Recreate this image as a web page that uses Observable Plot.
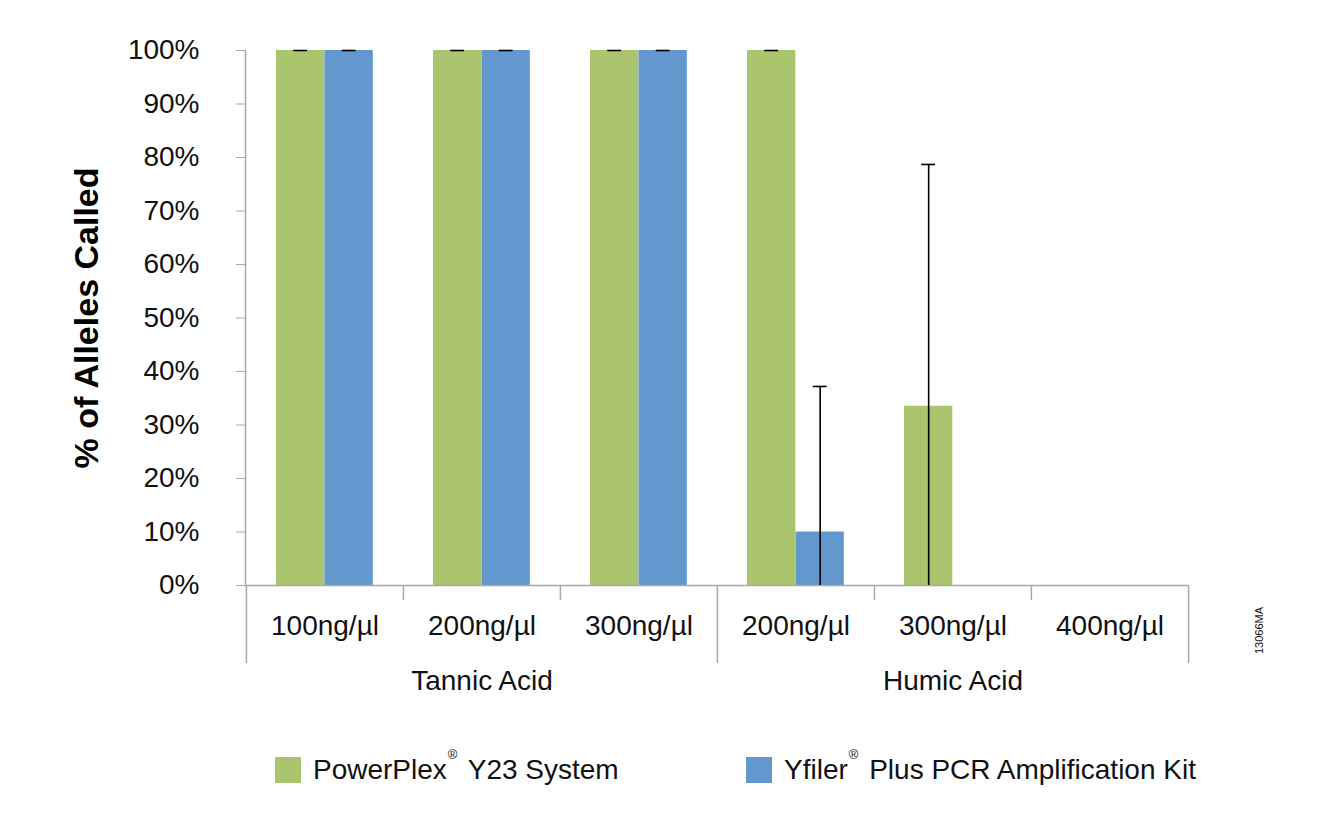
<!DOCTYPE html>
<html>
<head>
<meta charset="utf-8">
<script src="https://cdn.jsdelivr.net/npm/d3@7"></script>
<script src="https://cdn.jsdelivr.net/npm/@observablehq/plot@0.6"></script>
<style>
  html, body { margin: 0; padding: 0; background: #fff; }
  #wrap { position: relative; width: 1320px; height: 828px; font-family: "Liberation Sans", Arial, sans-serif; }
  #legend { position: absolute; top: 757px; left: 0; width: 1320px; height: 26px; font-size: 28px; color: #111; }
  .item { position: absolute; top: 0; height: 26px; display: flex; align-items: center; white-space: nowrap; }
  .sw { width: 26px; height: 26px; margin-right: 12px; flex: none; }
  .item sup { font-size: 13px; position: relative; top: -7px; margin: 0 3px 0 1px; vertical-align: top; }
</style>
</head>
<body>
<div id="wrap">
  <div id="chart"></div>
  <div id="legend"></div>
</div>
<script>
// ---- data ----
const concentrations = ["100ng/µl", "200ng/µl", "300ng/µl", "200ng/µl", "300ng/µl", "400ng/µl"];
const groups = ["Tannic Acid", "Tannic Acid", "Tannic Acid", "Humic Acid", "Humic Acid", "Humic Acid"];
const seriesNames = ["PowerPlex", "Yfiler"];
const powerPlex = [100, 100, 100, 100, 33.5, 0];
const yfiler = [100, 100, 100, 10, 0, 0];
const powerPlexError = [0, 0, 0, 0, 45.2, 0];
const yfilerError = [0, 0, 0, 27.2, 0, 0];
const yTicks = [0, 10, 20, 30, 40, 50, 60, 70, 80, 90, 100];
const yLabel = "% of Alleles Called";
const figureCode = "13066MA";
const legendItems = [
  {name: "PowerPlex", sup: "®", rest: " Y23 System"},
  {name: "Yfiler", sup: "®", rest: " Plus PCR Amplification Kit"}
];

// ---- derived tables ----
const keys = concentrations.map((c, i) => groups[i] + "|" + c);
const rows = keys.map((k, i) => ({key: k, conc: concentrations[i], group: groups[i]}));
const seriesValues = [powerPlex, yfiler];
const seriesErrors = [powerPlexError, yfilerError];
const seriesData = seriesNames.map((s, j) => keys.map((k, i) => ({
  key: k, series: s, value: seriesValues[j][i], err: seriesErrors[j][i],
  lo: Math.max(0, seriesValues[j][i] - seriesErrors[j][i]),
  hi: seriesValues[j][i] + seriesErrors[j][i]
})));
const errData = seriesData.map(d => d.filter(r => r.value > 0 || r.err > 0));
const groupNames = Array.from(new Set(groups));
const groupRows = groupNames.map(g => {
  const ks = keys.filter((k, i) => groups[i] === g);
  return {group: g, mid: ks[Math.floor(ks.length / 2)], first: ks[0], last: ks[ks.length - 1]};
});
const innerTicks = keys.filter((k, i) => i > 0 && groups[i] === groups[i - 1]);
const groupStarts = groupRows.map(g => g.first);
const lastKey = keys[keys.length - 1];

// ---- layout / style ----
const W = 1320, H = 720, mL = 245, mR = 132, mT = 50, mB = 135;
const bw = (W - mL - mR) / keys.length;
const plotH = H - mT - mB;
const colors = ["#AAC56E", "#6398CE"];
const axisGray = "#a9a9a9";
const barOff = [[30, 78.5], [78.5, 127]];
const errDx = [(barOff[0][0] + barOff[0][1]) / 2 - bw / 2, (barOff[1][0] + barOff[1][1]) / 2 - bw / 2];
const capInset = bw / 2 - 7;

const marks = [];
seriesNames.forEach((s, j) => {
  marks.push(Plot.barY(seriesData[j], {
    x: "key", y: "value", fill: colors[j],
    insetLeft: barOff[j][0], insetRight: bw - barOff[j][1]
  }));
});
// axes lines
marks.push(Plot.ruleY([0], {stroke: axisGray, strokeWidth: 1.5}));
marks.push(Plot.frame({anchor: "left", stroke: axisGray, strokeWidth: 1.5}));
marks.push(Plot.axisY({
  ticks: yTicks, tickFormat: d => d + "%", tickSize: 9, tickPadding: 37,
  stroke: axisGray, fill: "#111", fontSize: 28, label: null
}));
// category boundary ticks
marks.push(Plot.ruleX(innerTicks, {x: d => d, dx: -bw / 2, insetTop: plotH, insetBottom: -15, stroke: axisGray, strokeWidth: 1.5}));
marks.push(Plot.ruleX(groupStarts, {x: d => d, dx: -bw / 2, insetTop: plotH, insetBottom: -78, stroke: axisGray, strokeWidth: 1.5}));
marks.push(Plot.ruleX([lastKey], {x: d => d, dx: bw / 2, insetTop: plotH, insetBottom: -78, stroke: axisGray, strokeWidth: 1.5}));
// error bars
seriesNames.forEach((s, j) => {
  marks.push(Plot.ruleX(errData[j], {x: "key", y1: "lo", y2: "hi", dx: errDx[j], stroke: "#000", strokeWidth: 1.6}));
  marks.push(Plot.tickY(errData[j], {x: "key", y: "hi", dx: errDx[j], insetLeft: capInset, insetRight: capInset, stroke: "#000", strokeWidth: 1.6}));
});
// labels
marks.push(Plot.text(rows, {x: "key", text: "conc", frameAnchor: "bottom", dy: 49, fontSize: 28, fill: "#111"}));
marks.push(Plot.text(groupRows, {x: "mid", text: "group", frameAnchor: "bottom", dy: 104, fontSize: 28, fill: "#111"}));
marks.push(Plot.text([yLabel], {frameAnchor: "left", textAnchor: "middle", dx: -158, rotate: -90, fontSize: 34, fontWeight: "bold", fill: "#000"}));
marks.push(Plot.text([figureCode], {frameAnchor: "bottom-right", textAnchor: "middle", dx: 74, dy: 45, rotate: -90, fontSize: 11, fill: "#111"}));

const chart = Plot.plot({
  width: W, height: H,
  marginLeft: mL, marginRight: mR, marginTop: mT, marginBottom: mB,
  style: {fontFamily: "'Liberation Sans', Arial, sans-serif", fontSize: "28px", background: "#fff", color: "#111"},
  x: {type: "band", domain: keys, paddingInner: 0, paddingOuter: 0, axis: null},
  y: {domain: [0, 100], axis: null},
  marks
});
document.getElementById("chart").appendChild(chart);

// ---- legend ----
const legend = d3.select("#legend");
const legendX = [275, 746];
legendItems.forEach((it, j) => {
  const item = legend.append("div").attr("class", "item").style("left", legendX[j] + "px");
  item.append("div").attr("class", "sw").style("background", colors[j]);
  const t = item.append("span");
  t.append("span").text(it.name);
  t.append("sup").text(it.sup);
  t.append("span").text(it.rest);
});
</script>
</body>
</html>
